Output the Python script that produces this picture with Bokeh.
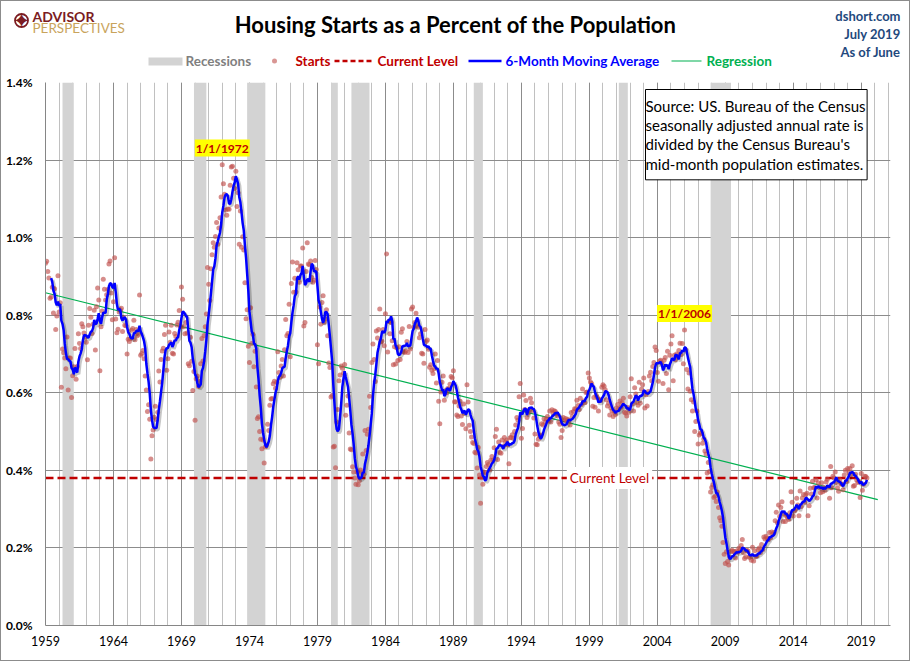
import numpy as np
import pandas as pd
from bokeh.plotting import figure
from bokeh.layouts import column
from bokeh.models import Range1d, FixedTicker, PrintfTickFormatter, Label
from bokeh.core.properties import value
from bokeh.embed import file_html
from bokeh.resources import INLINE

# ---------------- data (housing starts as % of population, monthly) -------------
first_year = 1959
starts_1959 = [.934, .939, .913, .896, .844, .847, .872, .806, .868, .763, .798, .902]
starts_1960s = [
    .808, .832, .614, .713, .703, .690, .662, .744, .607, .690, .690, .588,
    .644, .667, .714, .635, .668, .752, .727, .714, .778, .770, .754, .743,
    .730, .685, .774, .817, .795, .753, .777, .813, .710, .822, .870, .839,
    .657, .770, .811, .893, .867, .839, .853, .866, .932, .940, .857, .788,
    .835, .948, .790, .755, .764, .808, .814, .818, .758, .794, .774, .773,
    .700, .738, .732, .740, .761, .766, .787, .737, .763, .747, .751, .852,
    .697, .701, .709, .688, .643, .607, .552, .569, .532, .429, .489, .504,
    .537, .565, .531, .549, .656, .628, .686, .708, .715, .750, .774, .658,
    .688, .757, .730, .774, .702, .700, .753, .745, .775, .782, .812, .771,
    .873, .841, .770, .752, .781, .754, .675, .670, .743, .681, .606, .655,
]
starts_1970s = [
    .529, .636, .643, .616, .629, .675, .740, .682, .748, .770, .803, .923,
    .880, .838, .920, .956, .987, .975, 1.003, 1.039, .983, 1.025, 1.051, 1.105,
    1.188, 1.139, 1.112, 1.071, 1.058, 1.074, 1.073, 1.135, 1.182, 1.184, 1.153, 1.127,
    1.171, 1.080, 1.116, .983, 1.069, .975, 1.002, .968, .884, .791, .814, .720,
    .678, .819, .727, .751, .667, .707, .615, .534, .538, .500, .480, .456,
    .478, .419, .460, .465, .519, .503, .568, .584, .585, .623, .630, .612,
    .627, .706, .652, .640, .669, .686, .643, .711, .789, .747, .753, .828,
    .693, .882, .937, .859, .895, .860, .935, .917, .885, .927, .927, .973,
    .772, .781, .913, .987, .932, .930, .940, .897, .885, .890, .941, .918,
    .724, .675, .821, .777, .833, .850, .782, .790, .814, .747, .677, .665,
]
starts_1980s = [
    .589, .593, .460, .462, .407, .525, .557, .631, .646, .669, .663, .651,
    .673, .542, .568, .592, .496, .455, .453, .409, .396, .380, .364, .396,
    .363, .373, .401, .395, .442, .389, .503, .451, .493, .506, .591, .562,
    .678, .726, .686, .629, .759, .741, .763, .816, .731, .733, .763, .721,
    .804, .958, .705, .784, .752, .781, .734, .672, .719, .674, .716, .683,
    .719, .686, .756, .765, .706, .704, .708, .732, .704, .771, .713, .816,
    .821, .769, .781, .805, .772, .769, .742, .752, .702, .700, .676, .763,
    .732, .736, .712, .666, .672, .658, .650, .662, .700, .625, .683, .578,
    .520, .602, .627, .643, .581, .605, .600, .611, .610, .622, .642, .639,
    .657, .577, .576, .543, .539, .566, .578, .540, .518, .571, .547, .507,
]
starts_1990s = [
    .621, .576, .516, .500, .486, .472, .469, .447, .445, .406, .459, .388,
    .315, .381, .364, .396, .394, .410, .420, .415, .401, .426, .436, .426,
    .458, .487, .506, .428, .473, .446, .444, .478, .462, .485, .473, .478,
    .466, .417, .484, .485, .492, .482, .500, .517, .536, .529, .590, .624,
    .483, .508, .594, .557, .580, .536, .547, .556, .586, .574, .553, .535,
    .494, .467, .466, .480, .489, .491, .520, .517, .533, .525, .532, .539,
    .528, .553, .525, .556, .548, .554, .552, .546, .540, .525, .519, .485,
    .503, .536, .529, .534, .528, .532, .528, .517, .549, .539, .552, .559,
    .558, .581, .567, .557, .586, .570, .610, .579, .574, .601, .602, .651,
    .638, .628, .624, .565, .588, .563, .593, .588, .553, .583, .580, .614,
]
starts_2000s = [
    .621, .617, .608, .582, .566, .573, .543, .561, .553, .539, .550, .544,
    .561, .570, .558, .579, .563, .574, .586, .550, .548, .540, .562, .550,
    .590, .636, .571, .553, .613, .597, .575, .568, .627, .573, .609, .621,
    .638, .561, .595, .566, .603, .643, .653, .631, .668, .678, .718, .709,
    .652, .630, .682, .684, .676, .624, .684, .691, .650, .707, .608, .697,
    .726, .747, .631, .697, .685, .700, .695, .709, .728, .699, .727, .675,
    .762, .710, .660, .610, .651, .604, .582, .553, .576, .500, .526, .553,
    .468, .491, .496, .495, .470, .481, .450, .442, .393, .420, .397, .344,
    .356, .363, .330, .333, .320, .344, .304, .278, .270, .256, .214, .184,
    .160, .190, .165, .156, .176, .191, .194, .191, .191, .174, .192, .189,
]
starts_2010s = [
    .199, .195, .206, .222, .188, .173, .177, .194, .192, .176, .176, .168,
    .202, .166, .193, .178, .180, .195, .200, .188, .209, .196, .228, .223,
    .230, .224, .221, .240, .226, .241, .236, .240, .270, .292, .265, .311,
    .281, .304, .319, .268, .287, .268, .282, .278, .273, .291, .345, .318,
    .282, .295, .300, .328, .311, .283, .347, .307, .329, .338, .318, .337,
    .341, .283, .309, .354, .339, .372, .355, .356, .376, .329, .368, .356,
    .342, .368, .345, .356, .348, .370, .377, .357, .328, .410, .355, .385,
    .380, .396, .369, .355, .346, .376, .365, .365, .350, .388, .400, .371,
    .405, .393, .405, .389, .412, .359, .361, .390, .375, .369, .371, .330,
    .392, .349, .364, .385, .384, .380,
]

recession_start = [1960.25, 1969.92, 1973.83, 1980.00, 1981.50, 1990.50, 2001.17, 2007.92]
recession_end = [1961.08, 1970.83, 1975.17, 1980.50, 1982.83, 1991.17, 2001.83, 2009.42]

peak_labels = ["1/1/1972", "1/1/2006"]
peak_dates = [1972.0, 2006.0]

x_ticks = [1959, 1964, 1969, 1974, 1979, 1984, 1989, 1994, 1999, 2004, 2009, 2014, 2019]
y_ticks = [0.0, 0.2, 0.4, 0.6, 0.8, 1.0, 1.2, 1.4]
ma_window = 6
trend_forecast_years = 0.8

title_text = "Housing Starts as a Percent of the Population"
corner_texts = ["dshort.com", "July 2019", "As of June"]
legend_labels = ["Recessions", "Starts", "Current Level", "6-Month Moving Average", "Regression"]

# ---------------- derived series ----------------
starts = np.array(starts_1959 + starts_1960s + starts_1970s + starts_1980s
                  + starts_1990s + starts_2000s + starts_2010s)
dates = first_year + np.arange(len(starts)) / 12.0
ma = pd.Series(starts).rolling(ma_window).mean().to_numpy()
slope, intercept = np.polyfit(dates, starts, 1)
current = starts[-1]

# ---------------- geometry ----------------
FONT = "Lato"
W = 910
HEAD_H = 74
X_MIN, X_MAX = 1959.0, 2021.15
Y_MIN, Y_MAX = 0.0, 1.4
BL, BR, BT, BB = 45, 20, 8, 36
MAIN_H = 661 - HEAD_H
FW, FH = W - BL - BR, MAIN_H - BT - BB
FRAME_TOP = HEAD_H + BT


def dx(px):  # page pixel -> data x of main plot
    return X_MIN + (px - BL) * (X_MAX - X_MIN) / FW


def dy(py):  # page pixel -> data y of main plot
    return Y_MAX - (py - FRAME_TOP) * (Y_MAX - Y_MIN) / FH


px_x = (X_MAX - X_MIN) / FW
px_y = (Y_MAX - Y_MIN) / FH

# ================= header (title, logo, legend) =================
h = figure(width=W, height=HEAD_H, output_backend="svg", toolbar_location=None,
           x_range=Range1d(0, W), y_range=Range1d(HEAD_H, 0),
           x_axis_type=None, y_axis_type=None, min_border=0,
           outline_line_color=None, background_fill_alpha=0,
           border_fill_alpha=0)
h.frame_align = False
h.grid.visible = False

# logo
h.scatter([21], [20], marker="circle", size=13, fill_color=None,
          line_color="#7b1c22", line_width=1.8)
h.text([21], [20.5], text=["\u2726"], text_font=value("DejaVu Sans"),
       text_font_size="21px", text_color="#7b1c22", text_align="center",
       text_baseline="middle")
h.text([32], [16], text=["ADVISOR"], text_font=value(FONT), text_font_style="bold",
       text_font_size="14px", text_color="#7b1c22", text_align="left",
       text_baseline="middle")
h.text([32], [27], text=["PERSPECTIVES"], text_font=value(FONT),
       text_font_size="13.5px", text_color="#c9a45c", text_align="left",
       text_baseline="middle")

# title
h.text([455], [24], text=[title_text], text_font=value(FONT), text_font_style="bold",
       text_font_size="22px", text_color="#000000", text_align="center",
       text_baseline="middle")

# top-right notes
h.text([900, 900, 900], [15, 33, 51], text=corner_texts, text_font=value(FONT),
       text_font_style="bold", text_font_size="13px", text_color="#1f497d",
       text_align="right", text_baseline="middle")

# legend row
LY = 60.5
h.quad(left=[148], right=[182], top=[57], bottom=[65], fill_color="#d3d3d3",
       line_color=None)
h.scatter([274], [LY], size=5, fill_color="#c0504d", fill_alpha=0.6, line_color=None)
h.line([334, 371], [LY, LY], line_color="#c00000", line_width=2.5, line_dash="5 3")
h.line([468, 501], [LY, LY], line_color="#0000ff", line_width=2.5)
h.line([671, 701], [LY, LY], line_color="#00b050", line_width=1.2)
h.text([185, 295, 377, 505, 706], [LY] * 5, text=legend_labels, text_font=value(FONT),
       text_font_style="bold", text_font_size="13.5px",
       text_color=["#7f7f7f", "#c00000", "#c00000", "#0000ff", "#00b050"],
       text_align="left", text_baseline="middle")

# ================= main plot =================
p = figure(width=W, height=MAIN_H, output_backend="svg", toolbar_location=None,
           x_range=Range1d(X_MIN, X_MAX), y_range=Range1d(Y_MIN, Y_MAX),
           min_border_left=BL, min_border_right=BR, min_border_top=BT,
           min_border_bottom=BB, background_fill_color="white",
           border_fill_alpha=0, outline_line_color=None)
p.frame_align = False

p.xaxis.ticker = FixedTicker(ticks=x_ticks, minor_ticks=list(range(1959, 2022)))
p.xaxis.formatter = PrintfTickFormatter(format="%d")
p.yaxis.ticker = FixedTicker(ticks=y_ticks)
p.yaxis.formatter = PrintfTickFormatter(format="%.1f%%")
for ax in (p.xaxis, p.yaxis):
    ax.axis_line_color = "#868686"
    ax.axis_line_width = 1
    ax.major_tick_line_color = None
    ax.minor_tick_line_color = None
    ax.major_tick_out = 0
    ax.major_tick_in = 0
    ax.minor_tick_out = 0
    ax.major_label_text_font = FONT
    ax.major_label_text_color = "#000000"
p.xaxis.major_label_text_font_size = "12.5px"
p.xaxis.major_label_standoff = 10
p.yaxis.major_label_text_font_size = "12px"
p.yaxis.major_label_text_font_style = "bold"
p.yaxis.major_label_standoff = 13

p.xgrid.grid_line_color = "#8c8c8c"
p.xgrid.minor_grid_line_color = "#c0c0c0"
p.ygrid.grid_line_color = "#8c8c8c"

# recessions
p.quad(left=recession_start, right=recession_end, bottom=Y_MIN, top=Y_MAX,
       fill_color="#d3d3d3", line_color=None)

# regression
reg_x = np.array([X_MIN, dates[-1] + trend_forecast_years])
p.line(reg_x, intercept + slope * reg_x, line_color="#00b050", line_width=1.2)

# current level
p.line([dates[0], dates[-1]], [current, current], line_color="#c00000",
       line_width=2.5, line_dash="8 4")

# starts scatter
p.scatter(dates, starts, size=5, fill_color="#c0504d", fill_alpha=0.65, line_color=None)

# moving average with soft shadow
p.line(dates + 1.5 * px_x, ma - 1.8 * px_y, line_color="#000000", line_alpha=0.22,
       line_width=3.5)
p.line(dates, ma, line_color="#0000ff", line_width=2.5)

# peak annotations
for lab, d, py in zip(peak_labels, peak_dates, (147.5, 313)):
    p.add_layout(Label(x=d, y=dy(py), text=lab, text_align="center",
                       text_baseline="middle", text_font=FONT, text_font_style="bold",
                       text_font_size="12px", text_color="#c00000",
                       background_fill_color="#ffff00", padding=1))

# current level label
p.add_layout(Label(x=dx(609), y=current, text="Current Level", text_align="center",
                   text_baseline="middle", text_font=FONT, text_font_size="13.5px",
                   text_color="#c00000", background_fill_color="white", padding=3))

# source box with shadow
source_text = ("Source: US. Bureau of the Census\n"
               "seasonally adjusted annual rate is\n"
               "divided by the Census Bureau's\n"
               "mid-month  population estimates.")
p.add_layout(Label(x=dx(649), y=dy(93), text=source_text, text_align="left",
                   text_baseline="top", text_font=FONT, text_font_size="15px",
                   text_line_height=1.08, text_alpha=0.0,
                   background_fill_color="#7f7f7f", background_fill_alpha=0.45,
                   padding=(0, 7)))
p.add_layout(Label(x=dx(645), y=dy(89), text=source_text, text_align="left",
                   text_baseline="top", text_font=FONT, text_font_size="15px",
                   text_line_height=1.08, text_color="#000000",
                   background_fill_color="white", border_line_color="#000000",
                   border_line_width=1, padding=(0, 7)))

layout = column(h, p, spacing=0,
                styles={"background-color": "white",
                        "box-shadow": "inset 0 0 0 1px #8c8c8c",
                        "outline": "1px solid #8c8c8c", "outline-offset": "-1px"})
open("out.html", "w").write(file_html(layout, INLINE))
